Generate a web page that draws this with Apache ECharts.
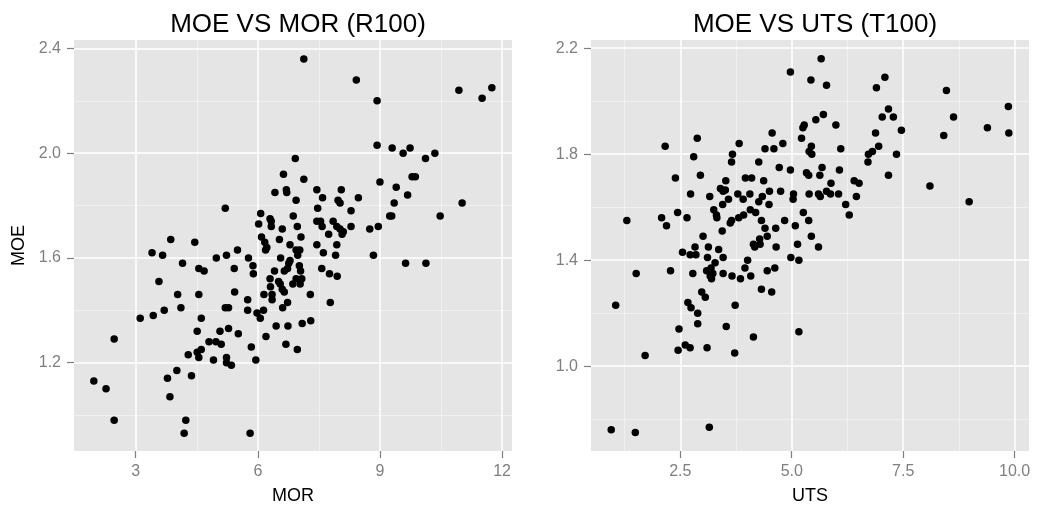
<!DOCTYPE html>
<html>
<head>
<meta charset="utf-8">
<script src="https://cdn.jsdelivr.net/npm/echarts@6/dist/echarts.min.js"></script>
<style>
html,body{margin:0;padding:0;background:#fff;}
#chart{width:1037px;height:510px;}
</style>
</head>
<body>
<div id="chart"></div>
<script>
// ---- Data ----
const leftTitle = "MOE VS MOR (R100)";
const rightTitle = "MOE VS UTS (T100)";

const leftMOR = [7.13,8.42,8.93,10.94,11.51,11.75,8.93,9.30,9.74,9.57,10.12,10.35,6.92,6.63,7.13,6.42,6.70,6.71,7.45,8.05,
7.59,8.47,6.94,7.97,8.02,9.00,9.40,9.79,9.87,9.68,9.35,11.02,5.20,7.47,8.29,6.07,6.87,9.24,9.29,10.48,
6.30,6.33,6.33,6.02,6.97,6.60,7.45,7.54,7.58,7.85,7.94,8.02,8.10,8.07,8.29,7.74,8.75,8.96,7.06,6.09,
6.17,6.53,6.79,7.45,7.94,6.22,6.19,3.86,4.45,5.50,6.94,7.03,6.98,7.61,7.91,4.98,5.23,5.77,3.40,3.66,
8.84,9.63,10.13,6.56,6.79,6.76,6.73,7.02,7.05,5.42,5.88,5.89,7.57,7.76,7.95,6.41,6.65,4.15,4.55,4.68,
6.30,6.51,6.55,6.60,6.65,6.31,6.86,6.94,7.08,7.04,3.57,6.15,6.35,6.35,7.29,5.43,5.75,6.73,6.61,7.78,
4.03,4.55,5.20,5.28,5.75,5.98,6.14,6.06,3.70,4.11,3.43,3.11,4.61,2.47,4.51,5.07,5.28,5.52,6.45,6.74,
7.09,7.30,6.20,4.80,4.97,5.10,5.84,6.69,6.97,4.29,4.51,4.61,4.55,4.91,5.23,5.23,5.35,5.95,4.01,3.78,
4.37,3.84,1.97,2.27,2.47,4.23,4.19,5.81];
const leftMOE = [2.36,2.28,2.20,2.24,2.21,2.25,2.03,2.02,2.02,2.00,1.98,2.00,1.98,1.92,1.90,1.85,1.86,1.85,1.86,1.86,
1.83,1.83,1.82,1.82,1.81,1.89,1.87,1.91,1.91,1.84,1.81,1.81,1.79,1.79,1.78,1.77,1.76,1.76,1.76,1.76,
1.75,1.74,1.72,1.73,1.72,1.71,1.74,1.74,1.72,1.74,1.72,1.71,1.70,1.69,1.72,1.69,1.71,1.72,1.68,1.68,
1.66,1.67,1.65,1.65,1.65,1.64,1.63,1.67,1.66,1.63,1.63,1.63,1.61,1.62,1.61,1.60,1.61,1.60,1.62,1.61,
1.61,1.58,1.58,1.60,1.59,1.58,1.56,1.57,1.55,1.56,1.57,1.54,1.56,1.54,1.53,1.55,1.55,1.58,1.56,1.55,
1.52,1.51,1.50,1.48,1.47,1.49,1.50,1.52,1.52,1.50,1.51,1.46,1.46,1.44,1.46,1.47,1.44,1.43,1.41,1.43,
1.46,1.46,1.41,1.41,1.40,1.39,1.40,1.37,1.40,1.41,1.38,1.37,1.37,1.29,1.32,1.32,1.33,1.31,1.34,1.34,
1.35,1.36,1.30,1.28,1.28,1.27,1.26,1.27,1.25,1.23,1.24,1.25,1.22,1.21,1.22,1.20,1.19,1.21,1.17,1.14,
1.15,1.07,1.13,1.10,0.98,0.98,0.93,0.93];

const rightUTS = [1.30,2.08,2.19,2.16,2.88,2.39,2.80,2.95,2.44,2.65,2.73,3.16,3.82,3.67,3.65,4.26,4.56,4.40,4.60,4.80,
4.72,4.97,4.97,3.52,3.96,4.10,4.37,3.40,3.51,3.46,3.79,3.91,4.06,3.58,4.34,4.50,4.49,4.75,4.26,3.45,
3.25,3.31,3.32,3.62,3.65,3.81,3.92,4.07,4.19,4.32,4.40,4.45,4.28,4.14,4.84,4.64,3.44,3.01,2.83,3.13,
3.36,4.65,5.04,5.03,5.08,5.13,5.22,2.55,2.72,2.85,3.11,3.46,3.28,2.28,2.78,3.09,3.19,3.23,3.17,3.20,
3.46,3.66,3.85,4.08,3.95,4.01,4.45,4.62,4.17,4.29,4.98,5.16,2.98,3.06,2.67,2.74,2.89,3.73,4.32,4.55,
2.89,2.47,3.53,4.14,5.16,1.51,1.05,1.71,2.45,2.61,2.72,3.10,3.72,0.95,1.49,3.15,5.66,5.43,5.78,6.90,
7.09,8.47,9.86,8.63,9.39,8.41,9.87,7.17,7.03,7.28,7.46,6.88,6.95,6.72,6.81,6.71,7.35,7.17,8.10,8.98,
5.71,5.54,5.28,5.25,5.99,5.44,5.39,5.45,6.10,5.33,5.38,5.68,5.63,6.07,5.88,6.40,6.51,5.39,5.60,5.64,
5.78,5.87,6.05,6.45,6.21,6.29,5.26,5.38,5.44,5.60];
const rightMOE = [1.55,1.56,1.53,1.83,1.86,1.71,1.79,1.72,1.58,1.56,1.65,1.64,1.84,1.80,1.77,1.77,1.88,1.82,1.82,1.84,
1.75,2.11,1.74,1.70,1.71,1.71,1.70,1.67,1.665,1.66,1.65,1.63,1.65,1.63,1.64,1.66,1.61,1.66,1.62,1.61,
1.59,1.57,1.56,1.54,1.55,1.56,1.57,1.59,1.58,1.55,1.52,1.49,1.48,1.46,1.55,1.52,1.51,1.49,1.45,1.45,
1.44,1.45,1.65,1.63,1.53,1.46,1.86,1.43,1.42,1.42,1.41,1.41,1.39,1.36,1.35,1.36,1.37,1.35,1.34,1.33,
1.35,1.34,1.33,1.34,1.37,1.40,1.36,1.37,1.45,1.46,1.41,1.40,1.28,1.26,1.24,1.22,1.20,1.23,1.29,1.28,
1.16,1.14,1.15,1.11,1.13,1.35,1.23,1.04,1.06,1.08,1.07,1.07,1.05,0.76,0.75,0.77,2.16,2.08,2.06,2.05,
2.09,2.04,1.98,1.94,1.90,1.87,1.88,1.97,1.94,1.94,1.89,1.88,1.83,1.80,1.81,1.77,1.80,1.72,1.68,1.62,
1.95,1.93,1.91,1.90,1.91,1.83,1.81,1.80,1.82,1.73,1.72,1.75,1.72,1.74,1.69,1.70,1.69,1.65,1.65,1.64,
1.66,1.65,1.65,1.64,1.61,1.57,1.58,1.55,1.49,1.45];

// tick labels / breaks
const leftXTicks = [3, 6, 9, 12];
const leftXMinor = [4.5, 7.5, 10.5];
const leftYTicks = [1.2, 1.6, 2.0, 2.4];
const leftYMinor = [1.0, 1.4, 1.8, 2.2];
const rightXTicks = [2.5, 5.0, 7.5, 10.0];
const rightXMinor = [1.25, 3.75, 6.25, 8.75];
const rightYTicks = [1.0, 1.4, 1.8, 2.2];
const rightYMinor = [0.8, 1.2, 1.6, 2.0];

// ---- Chart ----
const FONT = "Liberation Sans, Arial, sans-serif";
const GREY = "#7f7f7f";
const pair = (xs, ys) => xs.map((x, i) => [x, ys[i]]);

function gridLines(xMaj, xMin, yMaj, yMin) {
  const maj = {color: "#ffffff", width: 1.5, type: "solid"};
  const mnr = {color: "#f2f2f2", width: 0.8, type: "solid"};
  const d = [];
  xMin.forEach(v => d.push({xAxis: v, lineStyle: mnr}));
  yMin.forEach(v => d.push({yAxis: v, lineStyle: mnr}));
  xMaj.forEach(v => d.push({xAxis: v, lineStyle: maj}));
  yMaj.forEach(v => d.push({yAxis: v, lineStyle: maj}));
  return {
    silent: true, symbol: "none", z: 1, animation: false,
    label: {show: false}, emphasis: {disabled: true},
    data: d
  };
}

function xAxisDef(idx, min, max, ticks, fmt, name) {
  return {
    type: "value", gridIndex: idx, min: min, max: max,
    name: name, nameLocation: "middle", nameGap: 36,
    nameTextStyle: {fontFamily: FONT, fontSize: 18, color: "#000"},
    axisLine: {show: false},
    axisTick: {show: true, length: 7, customValues: ticks, lineStyle: {color: GREY, width: 1.2}},
    axisLabel: {customValues: ticks, formatter: fmt, margin: 13, fontFamily: FONT, fontSize: 16, color: GREY},
    splitLine: {show: false}
  };
}
function yAxisDef(idx, min, max, ticks, name) {
  return {
    type: "value", gridIndex: idx, min: min, max: max,
    name: name, nameLocation: "middle", nameGap: 46,
    nameTextStyle: {fontFamily: FONT, fontSize: 18, color: "#000"},
    axisLine: {show: false},
    axisTick: {show: true, length: 7, customValues: ticks, lineStyle: {color: GREY, width: 1.2}},
    axisLabel: {customValues: ticks, formatter: v => v.toFixed(1), margin: 13, fontFamily: FONT, fontSize: 16, color: GREY},
    splitLine: {show: false}
  };
}

const chart = echarts.init(document.getElementById("chart"), null, {renderer: "canvas"});
chart.setOption({
  animation: false,
  backgroundColor: "#ffffff",
  title: [
    {text: leftTitle, left: 293, top: 7, textAlign: "center",
     textStyle: {fontFamily: FONT, fontSize: 26, fontWeight: "normal", color: "#000"}},
    {text: rightTitle, left: 810, top: 7, textAlign: "center",
     textStyle: {fontFamily: FONT, fontSize: 26, fontWeight: "normal", color: "#000"}}
  ],
  grid: [
    {left: 74, top: 40, width: 438, height: 414, show: true, backgroundColor: "#e5e5e5", borderWidth: 0},
    {left: 591, top: 40, width: 438, height: 414, show: true, backgroundColor: "#e5e5e5", borderWidth: 0}
  ],
  xAxis: [
    xAxisDef(0, 1.483, 12.245, leftXTicks, v => String(v), "MOR"),
    xAxisDef(1, 0.496, 10.323, rightXTicks, v => v.toFixed(1), "UTS")
  ],
  yAxis: [
    yAxisDef(0, 0.8626, 2.4323, leftYTicks, "MOE"),
    yAxisDef(1, 0.680, 2.2306, rightYTicks, "")
  ],
  series: [
    {type: "scatter", xAxisIndex: 0, yAxisIndex: 0, z: 2, symbolSize: 7.5,
     itemStyle: {color: "#000", opacity: 1}, silent: true,
     data: pair(leftMOR, leftMOE),
     markLine: gridLines(leftXTicks, leftXMinor, leftYTicks, leftYMinor)},
    {type: "scatter", xAxisIndex: 1, yAxisIndex: 1, z: 2, symbolSize: 7.5,
     itemStyle: {color: "#000", opacity: 1}, silent: true,
     data: pair(rightUTS, rightMOE),
     markLine: gridLines(rightXTicks, rightXMinor, rightYTicks, rightYMinor)}
  ]
});
</script>
</body>
</html>
